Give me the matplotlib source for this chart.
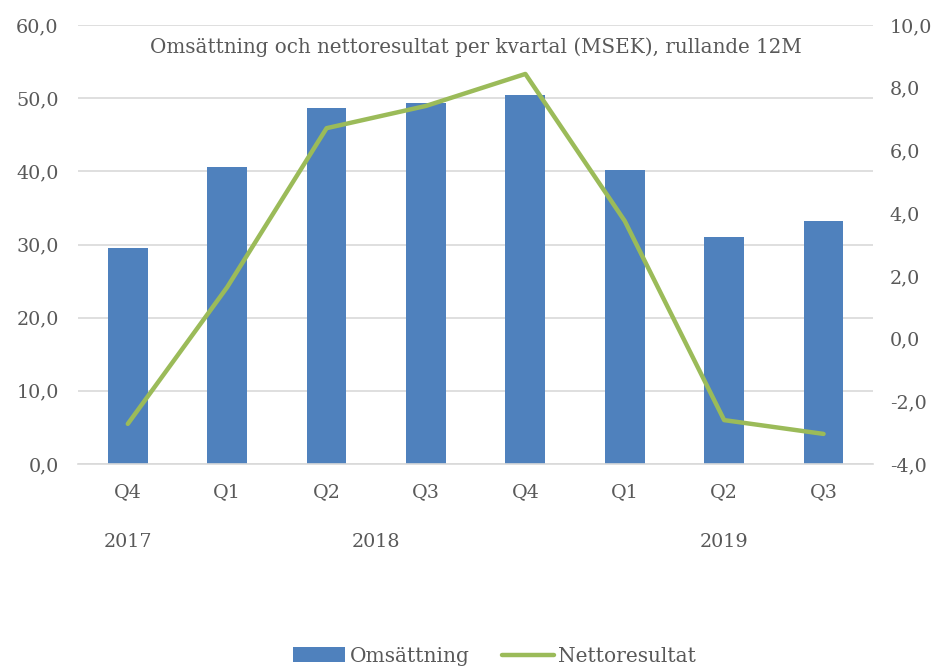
import numpy as np
import matplotlib.pyplot as plt

plt.rcParams['font.family'] = ['DejaVu Serif']

quarters = ['Q4', 'Q1', 'Q2', 'Q3', 'Q4', 'Q1', 'Q2', 'Q3']
years = ['2017', '2018', '2019']
year_spans = [(0, 0), (1, 4), (5, 7)]
omsattning = [29.5, 40.6, 48.6, 49.3, 50.4, 40.2, 31.0, 33.2]
nettoresultat = [-2.72, 1.64, 6.71, 7.42, 8.44, 3.75, -2.6, -3.04]

text_color = '#595959'
grid_color = '#D9D9D9'

fig = plt.figure(figsize=(9.41, 6.69), dpi=100)
ax = fig.add_axes([0.083, 0.3064, 0.845, 0.6562])
ax2 = ax.twinx()

x = np.arange(len(quarters))
bars = ax.bar(x, omsattning, width=0.4, color='#4F81BD', label='Omsättning', zorder=2)
line, = ax2.plot(x, nettoresultat, color='#9BBB59', linewidth=3.2, label='Nettoresultat',
                 solid_capstyle='round', solid_joinstyle='round', zorder=3)

ax.set_xlim(-0.5, len(quarters) - 0.5)
ax.set_ylim(0, 60)
ax.set_yticks(np.arange(0, 61, 10))
ax.set_yticklabels([f'{v:.1f}'.replace('.', ',') for v in np.arange(0, 61, 10)])
ax2.set_ylim(-4, 10)
ax2.set_yticks(np.arange(-4, 11, 2))
ax2.set_yticklabels([f'{v:.1f}'.replace('.', ',') for v in np.arange(-4, 11, 2)])

ax.grid(axis='y', color=grid_color, linewidth=1.2, zorder=0)
ax.set_axisbelow(True)
for a in (ax, ax2):
    for s in a.spines.values():
        s.set_visible(False)
    a.tick_params(length=0, labelsize=13.8, labelcolor=text_color)
ax.spines['bottom'].set_visible(True)
ax.spines['bottom'].set_color(grid_color)
ax.spines['bottom'].set_linewidth(1.2)
ax.tick_params(axis='y', pad=14)
ax2.tick_params(axis='y', pad=12)

ax.set_xticks(x)
ax.set_xticklabels(quarters)
ax.tick_params(axis='x', pad=14)

for yr, (a, b) in zip(years, year_spans):
    ax.text((a + b) / 2, -0.177, yr, transform=ax.get_xaxis_transform(),
            ha='center', va='center', fontsize=13.8, color=text_color)

ax.text(0.5, 0.95, 'Omsättning och nettoresultat per kvartal (MSEK), rullande 12M',
        transform=ax.transAxes, ha='center', va='center', fontsize=14.3, color=text_color)

fig.legend([bars, line], ['Omsättning', 'Nettoresultat'], loc='lower center',
           bbox_to_anchor=(0.5255, -0.022), ncol=2, frameon=False, fontsize=14.5,
           labelcolor=text_color, handlelength=2.6, handletextpad=0.2, columnspacing=1.6)

fig.savefig('out.png', dpi=100)
